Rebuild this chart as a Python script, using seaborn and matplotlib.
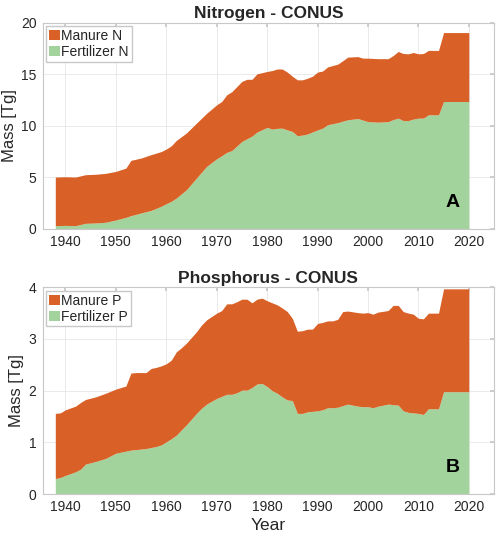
import numpy as np
import pandas as pd
import matplotlib
matplotlib.use("Agg")
import matplotlib.pyplot as plt
import seaborn as sns

# nitrogen, Tg
years_n = [1938, 1940, 1942, 1944, 1946, 1948, 1950, 1952, 1953, 1955, 1957, 1959,
           1960, 1961, 1962, 1964, 1966, 1968, 1970, 1971, 1972, 1973, 1975, 1976,
           1977, 1978, 1980, 1981, 1982, 1983, 1984, 1985, 1986, 1987, 1988, 1989,
           1990, 1991, 1992, 1994, 1995, 1996, 1998, 1999, 2000, 2002, 2004, 2005,
           2006, 2007, 2008, 2009, 2010, 2011, 2012, 2014, 2015, 2020]
fert_n = [0.32, 0.35, 0.32, 0.55, 0.58, 0.65, 0.87, 1.13, 1.29, 1.55, 1.80, 2.20,
          2.45, 2.68, 3.00, 3.80, 4.94, 6.06, 6.80, 7.10, 7.42, 7.60, 8.48, 8.74,
          9.00, 9.39, 9.84, 9.68, 9.75, 9.77, 9.60, 9.45, 9.03, 9.10, 9.20, 9.40,
          9.60, 9.77, 10.10, 10.30, 10.45, 10.58, 10.70, 10.55, 10.40, 10.35, 10.40, 10.60,
          10.74, 10.50, 10.50, 10.65, 10.74, 10.74, 11.06, 11.06, 12.35, 12.35]
manure_n = [4.71, 4.71, 4.71, 4.71, 4.72, 4.74, 4.71, 4.77, 5.36, 5.32, 5.40, 5.30,
            5.29, 5.38, 5.58, 5.50, 5.32, 5.14, 5.23, 5.25, 5.58, 5.70, 5.82, 5.76,
            5.50, 5.64, 5.42, 5.67, 5.75, 5.73, 5.60, 5.35, 5.42, 5.35, 5.40, 5.40,
            5.60, 5.53, 5.60, 5.67, 5.85, 6.07, 6.00, 6.00, 6.15, 6.15, 6.10, 6.20,
            6.46, 6.50, 6.47, 6.45, 6.23, 6.26, 6.24, 6.24, 6.68, 6.68]

# phosphorus, Tg
years_p = [1938, 1939, 1940, 1942, 1943, 1944, 1946, 1948, 1950, 1952, 1953, 1954,
           1956, 1957, 1958, 1959, 1960, 1961, 1962, 1963, 1964, 1966, 1967, 1968,
           1970, 1971, 1972, 1973, 1974, 1975, 1976, 1977, 1978, 1979, 1980, 1981,
           1982, 1983, 1984, 1985, 1986, 1987, 1988, 1989, 1990, 1991, 1992, 1993,
           1994, 1995, 1996, 1998, 1999, 2000, 2001, 2002, 2004, 2005, 2006, 2007,
           2008, 2009, 2010, 2011, 2012, 2014, 2015, 2020]
fert_p = [0.30, 0.32, 0.36, 0.43, 0.48, 0.58, 0.63, 0.69, 0.79, 0.83, 0.85, 0.86,
          0.88, 0.90, 0.92, 0.95, 1.01, 1.07, 1.14, 1.24, 1.34, 1.56, 1.66, 1.74,
          1.85, 1.89, 1.93, 1.93, 1.96, 2.01, 2.01, 2.06, 2.13, 2.14, 2.08, 2.00,
          1.95, 1.88, 1.82, 1.81, 1.56, 1.56, 1.59, 1.60, 1.61, 1.63, 1.67, 1.67,
          1.68, 1.71, 1.74, 1.70, 1.69, 1.69, 1.67, 1.70, 1.74, 1.73, 1.72, 1.61,
          1.58, 1.57, 1.56, 1.54, 1.65, 1.65, 1.98, 1.98]
manure_p = [1.26, 1.25, 1.27, 1.27, 1.29, 1.25, 1.25, 1.26, 1.24, 1.26, 1.49, 1.49,
            1.47, 1.53, 1.53, 1.53, 1.51, 1.52, 1.61, 1.59, 1.58, 1.58, 1.61, 1.63,
            1.65, 1.66, 1.75, 1.75, 1.76, 1.76, 1.76, 1.64, 1.64, 1.65, 1.66, 1.70,
            1.71, 1.72, 1.71, 1.59, 1.59, 1.60, 1.60, 1.59, 1.69, 1.69, 1.68, 1.68,
            1.70, 1.82, 1.80, 1.81, 1.81, 1.82, 1.81, 1.82, 1.81, 1.92, 1.93, 1.92,
            1.92, 1.91, 1.84, 1.85, 1.85, 1.85, 1.99, 1.99]

df_n = pd.DataFrame({"Year": years_n, "Fertilizer": fert_n, "Manure": manure_n})
df_p = pd.DataFrame({"Year": years_p, "Fertilizer": fert_p, "Manure": manure_p})

sns.set_theme(style="whitegrid")
plt.rcParams["font.family"] = ["Liberation Sans", "DejaVu Sans"]

orange = "#D96026"
green = "#A3D39C"

fig = plt.figure(figsize=(5.0, 5.37), dpi=100)
ax1 = fig.add_axes([0.0854, 0.5736, 0.9026, 0.3844])
ax2 = fig.add_axes([0.0854, 0.0800, 0.9026, 0.3850])

panels = [
    (ax1, df_n, "Nitrogen - CONUS", "Manure N", "Fertilizer N", 20, [0, 5, 10, 15, 20], "A"),
    (ax2, df_p, "Phosphorus - CONUS", "Manure P", "Fertilizer P", 4, [0, 1, 2, 3, 4], "B"),
]

for ax, df, title, lab_m, lab_f, ymax, yticks, letter in panels:
    ax.stackplot(df["Year"], df["Fertilizer"], df["Manure"],
                 colors=[green, orange], labels=[lab_f, lab_m], linewidth=0, zorder=2)
    ax.set_xlim(1935.5, 2025)
    ax.set_ylim(0, ymax)
    ax.set_xticks([1940, 1950, 1960, 1970, 1980, 1990, 2000, 2010, 2020])
    ax.set_yticks(yticks)
    ax.grid(True, color="#E6E6E6", linewidth=0.6)
    ax.set_axisbelow(True)
    for s in ax.spines.values():
        s.set_color("#C8C8C8")
        s.set_linewidth(0.8)
    ax.tick_params(axis="both", direction="in", length=3, color="#C8C8C8",
                   labelsize=10, labelcolor="#262626", top=True, right=True, pad=4.5)
    ax.set_title(title, fontsize=12.5, fontweight="bold", pad=3)
    ax.set_ylabel("Mass [Tg]", fontsize=12, color="#262626", labelpad=3)
    handles, labels = ax.get_legend_handles_labels()
    ax.legend(handles[::-1], labels[::-1], loc="upper left", fontsize=10,
              frameon=True, fancybox=False, edgecolor="#C8C8C8", framealpha=1,
              handlelength=0.8, handleheight=0.7, handletextpad=0.1,
              labelspacing=0.15, borderpad=0.2, borderaxespad=0.25)
    ax.text(0.908, 0.128, letter, transform=ax.transAxes, fontsize=14,
            fontweight="bold", ha="center", va="center", color="black")

ax2.set_xlabel("Year", fontsize=12.5, color="#262626", labelpad=2.5)

fig.savefig("out.png", dpi=100)
